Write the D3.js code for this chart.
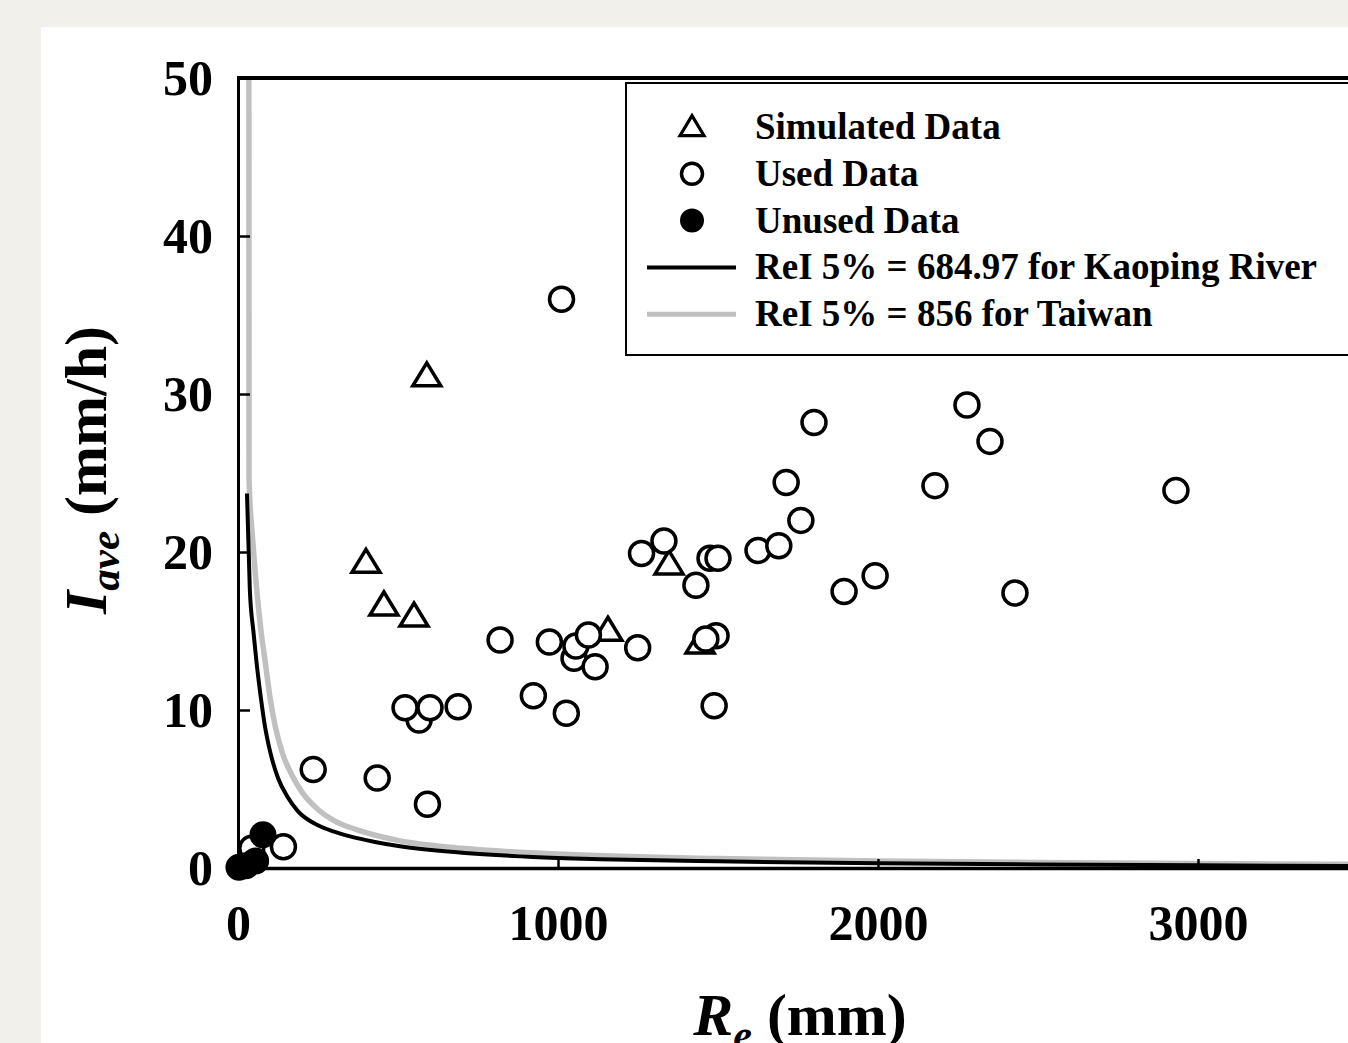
<!DOCTYPE html>
<html>
<head>
<meta charset="utf-8">
<script src="https://cdn.jsdelivr.net/npm/d3@7"></script>
<style>
body { margin: 0; background: #f2f0eb; }
svg { display: block; }
text { font-family: "Liberation Serif", "Times New Roman", serif; font-weight: bold; fill: #000; }
</style>
</head>
<body>
<svg id="chart" width="1348" height="1043"></svg>
<script>
// values: [Re (mm), Iave (mm/h)]
var simulated = [
    [400, 19.2], [456, 16.5], [550, 15.8], [590, 31.0],
    [1156, 14.9], [1347, 19.1], [1444, 14.1]
];

var used = [
    [1011, 36.0], [235, 6.24], [435, 5.7], [592, 4.03], [142, 1.35], [43, 1.25],
    [566, 9.37], [522, 10.14], [600, 10.14], [688, 10.2],
    [819, 14.43], [923, 10.9], [1026, 9.8], [973, 14.3],
    [1050, 13.27], [1056, 14.05], [1095, 14.75], [1116, 12.74],
    [1249, 13.94], [1261, 19.9], [1331, 20.7], [1431, 17.9], [1475, 19.6], [1500, 19.6],
    [1494, 14.7], [1462, 14.5], [1488, 10.27],
    [1625, 20.1], [1690, 20.4], [1759, 22.0], [1713, 24.4], [1800, 28.2],
    [1894, 17.5], [1991, 18.5], [2178, 24.2], [2278, 29.3], [2350, 27.0], [2428, 17.4], [2931, 23.9]
];

var unused = [[3, 0.05], [25, 0.15], [55, 0.45], [78, 2.1]];

// threshold curves
var kaopingCurve = [
    [28, 23.7], [37, 17.6], [48, 15.0], [58, 13.0], [70, 11.0], [84, 9.0], [100, 7.4],
    [125, 5.7], [155, 4.5], [187, 3.6], [250, 2.7], [300, 2.3], [350, 2.0], [428, 1.65],
    [506, 1.38], [700, 0.97], [922, 0.7], [1131, 0.56], [1500, 0.42], [2000, 0.3],
    [2500, 0.22], [3000, 0.17], [3500, 0.12]
];

var taiwanCurve = [
    [34, 50], [34.5, 24.6], [47, 20.5], [60, 17.3], [72, 15.0], [84, 13.2], [100, 10.8],
    [116, 9.0], [140, 7.2], [168, 5.9], [200, 4.8], [250, 3.7], [300, 3.0], [375, 2.4],
    [500, 1.75], [700, 1.25], [1000, 0.88], [1500, 0.6], [2000, 0.45], [2500, 0.35],
    [3000, 0.28], [3500, 0.24]
];

var xTicks = [0, 1000, 2000, 3000];
var yTicks = [0, 10, 20, 30, 40, 50];

var legendItems = [
    {label: "Simulated Data", kind: "tri"},
    {label: "Used Data", kind: "open"},
    {label: "Unused Data", kind: "filled"},
    {label: "ReI 5% = 684.97 for Kaoping River", kind: "black"},
    {label: "ReI 5% = 856 for Taiwan", kind: "gray"}
];

var svg = d3.select("#chart");

// white panel on beige page
svg.append("rect").attr("x", 41).attr("y", 27).attr("width", 1348 - 41).attr("height", 1043 - 27).attr("fill", "#fff");

var x = d3.scaleLinear().domain([0, 3500]).range([238, 1358]);
var y = d3.scaleLinear().domain([0, 50]).range([868, 78]);

var grayCol = "#c0c0c0";

// curves
var line = d3.line()
    .x(function(d) { return x(d[0]); })
    .y(function(d) { return y(d[1]); })
    .curve(d3.curveMonotoneX);

svg.append("path").datum(taiwanCurve)
    .attr("d", line).attr("fill", "none")
    .attr("stroke", grayCol).attr("stroke-width", 5.5);

svg.append("path").datum(kaopingCurve)
    .attr("d", line).attr("fill", "none")
    .attr("stroke", "#000").attr("stroke-width", 4);

// axes
var xAxis = svg.append("g").attr("transform", "translate(0,868)")
    .call(d3.axisBottom(x).tickValues(xTicks).tickSizeInner(-9).tickSizeOuter(0).tickFormat(d3.format("d")));
xAxis.select(".domain").attr("stroke-width", 3.5);
xAxis.selectAll(".tick line").attr("stroke-width", 2.5);
xAxis.selectAll(".tick text").attr("y", 72).attr("dy", null)
    .style("font-size", "50px");

var yAxis = svg.append("g").attr("transform", "translate(238,0)")
    .call(d3.axisLeft(y).tickValues(yTicks).tickSizeInner(-12).tickSizeOuter(0));
yAxis.select(".domain").attr("stroke-width", 3);
yAxis.selectAll(".tick line").attr("stroke-width", 2.5);
yAxis.selectAll(".tick text").attr("x", -25).attr("dy", "0.32em")
    .style("font-size", "50px");

svg.selectAll(".tick text").style("font-family", "'Liberation Serif', 'Times New Roman', serif").style("font-weight", "bold");

// top border
svg.append("line").attr("x1", 237).attr("x2", 1348).attr("y1", 78).attr("y2", 78)
    .attr("stroke", "#000").attr("stroke-width", 4);

// markers
function triPath(w, h) {
    return "M0," + (-h * 2 / 3) + "L" + (w / 2) + "," + (h / 3) + "L" + (-w / 2) + "," + (h / 3) + "Z";
}

svg.append("g").selectAll("path").data(simulated).enter().append("path")
    .attr("d", triPath(28, 23))
    .attr("transform", function(d) { return "translate(" + x(d[0]) + "," + y(d[1]) + ")"; })
    .attr("fill", "#fff").attr("stroke", "#000").attr("stroke-width", 3.5)
    .attr("stroke-linejoin", "miter");

svg.append("g").selectAll("circle").data(used).enter().append("circle")
    .attr("cx", function(d) { return x(d[0]); })
    .attr("cy", function(d) { return y(d[1]); })
    .attr("r", 12)
    .attr("fill", "#fff").attr("stroke", "#000").attr("stroke-width", 3.5);

svg.append("g").selectAll("circle").data(unused).enter().append("circle")
    .attr("cx", function(d) { return x(d[0]); })
    .attr("cy", function(d) { return y(d[1]); })
    .attr("r", 13.5)
    .attr("fill", "#000");

// legend
svg.append("rect").attr("x", 626).attr("y", 83).attr("width", 800).attr("height", 272)
    .attr("fill", "#fff").attr("stroke", "#000").attr("stroke-width", 2);

var leg = svg.append("g").selectAll("g").data(legendItems).enter().append("g")
    .attr("transform", function(d, i) { return "translate(0," + (127 + i * 46.8) + ")"; });

leg.each(function(d) {
    var g = d3.select(this);
    if (d.kind === "tri") {
        g.append("path").attr("d", triPath(24, 20)).attr("transform", "translate(692,2)")
            .attr("fill", "#fff").attr("stroke", "#000").attr("stroke-width", 3.2);
    } else if (d.kind === "open") {
        g.append("circle").attr("cx", 692).attr("cy", 0).attr("r", 10.5)
            .attr("fill", "#fff").attr("stroke", "#000").attr("stroke-width", 3.5);
    } else if (d.kind === "filled") {
        g.append("circle").attr("cx", 692).attr("cy", 0).attr("r", 12).attr("fill", "#000");
    } else {
        g.append("line").attr("x1", 647).attr("x2", 736).attr("y1", 0).attr("y2", 0)
            .attr("stroke", d.kind === "black" ? "#000" : grayCol)
            .attr("stroke-width", d.kind === "black" ? 4 : 5);
    }
    g.append("text").attr("x", 755).attr("y", 12).style("font-size", "37px").text(d.label);
});

// axis titles
var xt = svg.append("text").attr("x", 800).attr("y", 1035).attr("text-anchor", "middle")
    .style("font-size", "60px");
xt.append("tspan").style("font-style", "italic").text("R");
xt.append("tspan").style("font-style", "italic").style("font-size", "42px").attr("dy", 14).text("e");
xt.append("tspan").attr("dy", -14).text(" (mm)");

var yt = svg.append("text").attr("transform", "translate(106,470) rotate(-90)")
    .attr("text-anchor", "middle").style("font-size", "60px");
yt.append("tspan").style("font-style", "italic").text("I");
yt.append("tspan").style("font-style", "italic").style("font-size", "43px").attr("dy", 13).text("ave");
yt.append("tspan").attr("dy", -13).text(" (mm/h)");
</script>
</body>
</html>
